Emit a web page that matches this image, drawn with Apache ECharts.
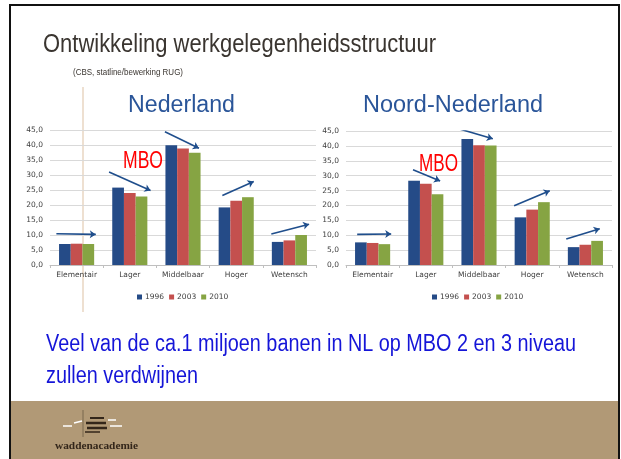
<!DOCTYPE html>
<html>
<head>
    <meta charset="utf-8">
    <title>Ontwikkeling werkgelegenheidsstructuur</title>
    <script src="https://cdn.jsdelivr.net/npm/echarts@6/dist/echarts.min.js"></script>
</head>
<body style="margin:0;padding:0;background:#fff;">
<div id="main" style="margin:0px;padding:0px;width:621px;height:459px;"></div>
<script type="text/javascript">
    // categorieen en jaren
    var categories = ['Elementair', 'Lager', 'Middelbaar', 'Hoger', 'Wetensch'];
    var years = ['1996', '2003', '2010'];
    var yTicks = [0, 45, 5];

    // Nederland (%)
    var nl1996 = [7.0, 25.8, 39.9, 19.2, 7.7];
    var nl2003 = [7.1, 24.0, 38.8, 21.4, 8.2];
    var nl2010 = [7.0, 22.8, 37.4, 22.6, 10.0];

    // Noord-Nederland (%)
    var nn1996 = [7.6, 28.3, 42.3, 16.0, 6.0];
    var nn2003 = [7.4, 27.3, 40.2, 18.6, 6.8];
    var nn2010 = [7.0, 23.8, 40.1, 21.1, 8.1];

    // pijlen (categorie-positie, waarde) -> (categorie-positie, waarde)
    var nlArrows = [
        [[-0.38, 10.4], [0.36, 10.2]],
        [[0.61, 31.0], [1.39, 24.8]],
        [[1.66, 44.4], [2.30, 38.9]],
        [[2.74, 23.2], [3.33, 27.8]],
        [[3.66, 10.3], [4.37, 13.6]]
    ];
    var nnArrows = [
        [[-0.29, 10.3], [0.35, 10.4]],
        [[0.76, 32.0], [1.27, 28.2]],
        [[1.61, 45.8], [2.26, 42.4]],
        [[2.66, 19.9], [3.33, 24.9]],
        [[3.64, 8.7], [4.27, 12.2]]
    ];

    var titleText = 'Ontwikkeling werkgelegenheidsstructuur';
    var subText = '(CBS, statline/bewerking RUG)';
    var bottomLines = ['Veel van de ca.1 miljoen banen in NL op MBO 2 en 3 niveau', 'zullen verdwijnen'];

    var colors = ['#254B87', '#C4504E', '#86A443'];
    var sans = "'Liberation Sans', Arial, sans-serif";
    var axisFont = "'DejaVu Sans', Verdana, sans-serif";

    // tekst smaller maken (geen Arial Narrow beschikbaar)
    var cv = document.createElement('canvas').getContext('2d');
    function fit(str, font, w) {
        cv.font = font;
        return w / cv.measureText(str).width;
    }
    function txt(str, x, y, size, color, w, opt) {
        var font = (opt && opt.bold ? 'bold ' : '') + size + 'px ' + ((opt && opt.family) || sans);
        var s = w ? fit(str, font, w) : 1;
        if (opt && opt.scale) s = opt.scale;
        return {
            type: 'text', x: x, y: y, scaleX: s, z: 10,
            style: {text: str, font: font, fill: color, verticalAlign: 'middle'}
        };
    }

    var myChart = echarts.init(document.getElementById('main'));

    function catAxis(g) {
        return {
            type: 'category', gridIndex: g, data: categories,
            axisLine: {lineStyle: {color: '#BFBFBF'}},
            axisTick: {show: true, length: 3, lineStyle: {color: '#BFBFBF'}},
            axisLabel: {color: '#404040', fontSize: 7.5, fontFamily: axisFont, margin: 6, interval: 0}
        };
    }
    function posAxis(g) {
        return {type: 'value', gridIndex: g, min: -0.5, max: 4.5, show: false};
    }
    function valAxis(g) {
        return {
            type: 'value', gridIndex: g, min: yTicks[0], max: yTicks[1], interval: yTicks[2],
            axisLine: {show: false}, axisTick: {show: false},
            splitLine: {lineStyle: {color: '#D9D9D9'}},
            axisLabel: {
                color: '#404040', fontSize: 7.5, fontFamily: axisFont, margin: 7,
                formatter: function (v) { return v.toFixed(1).replace('.', ','); }
            }
        };
    }
    function bar(name, data, g, c) {
        return {
            name: name, type: 'bar', xAxisIndex: g, yAxisIndex: g, data: data,
            itemStyle: {color: c}, barGap: '0%', barCategoryGap: '34%'
        };
    }
    function arrows(list, xi, yi) {
        return {
            type: 'lines', coordinateSystem: 'cartesian2d', xAxisIndex: xi, yAxisIndex: yi,
            symbol: ['none', 'arrow'], symbolSize: 6, silent: true,
            lineStyle: {color: '#1F4E8C', width: 1.6, opacity: 1},
            data: list.map(function (a) { return {coords: a}; })
        };
    }
    function legend(left) {
        return {
            data: years, left: left, top: 288, icon: 'rect', itemWidth: 5, itemHeight: 5, itemGap: 5,
            textStyle: {fontSize: 7.5, color: '#404040', fontFamily: axisFont, padding: [0, 0, 0, -2]}
        };
    }

    var bottomScale = fit(bottomLines[0], '23px ' + sans, 530);

    var option = {
        backgroundColor: '#ffffff',
        animation: false,
        graphic: [
            {type: 'rect', z: -10, shape: {x: 10, y: 5, width: 609, height: 460},
                style: {fill: '#ffffff', stroke: '#111111', lineWidth: 2}},
            {type: 'rect', z: -9, shape: {x: 11, y: 401, width: 607, height: 58},
                style: {fill: '#B19976'}},
            {type: 'line', z: -8, shape: {x1: 83, y1: 87, x2: 83, y2: 312},
                style: {stroke: '#E9D6C2', lineWidth: 1.5}},
            txt(titleText, 43, 45, 25, '#3A3530', 393),
            txt(subText, 73, 73, 8.5, '#3A3530', 110),
            txt('Nederland', 128, 106, 23, '#2A5599', 107),
            txt('Noord-Nederland', 363, 106, 23, '#2A5599', 180),
            txt('MBO', 123, 161, 24, '#FF0000', 40),
            txt('MBO', 419, 165, 23, '#FF0000', 39),
            txt(bottomLines[0], 46, 345, 23, '#1515D8', 0, {scale: bottomScale}),
            txt(bottomLines[1], 46, 377, 23, '#1515D8', 0, {scale: bottomScale}),
            txt('waddenacademie', 55, 446, 11, '#33261A', 83, {family: "'Liberation Serif', 'DejaVu Serif', serif", bold: true}),
            // logo streepjes
            {type: 'line', shape: {x1: 83, y1: 410, x2: 83, y2: 437}, style: {stroke: '#6b5a44', lineWidth: 0.8}},
            {type: 'line', shape: {x1: 90, y1: 418, x2: 104, y2: 418}, style: {stroke: '#33261A', lineWidth: 2}},
            {type: 'line', shape: {x1: 86, y1: 423, x2: 106, y2: 423}, style: {stroke: '#33261A', lineWidth: 2.5}},
            {type: 'line', shape: {x1: 87, y1: 428, x2: 107, y2: 428}, style: {stroke: '#33261A', lineWidth: 2.5}},
            {type: 'line', shape: {x1: 85, y1: 432, x2: 100, y2: 432}, style: {stroke: '#33261A', lineWidth: 1.5}},
            {type: 'line', shape: {x1: 63, y1: 426, x2: 72, y2: 426}, style: {stroke: '#ffffff', lineWidth: 1.5}},
            {type: 'line', shape: {x1: 74, y1: 423, x2: 82, y2: 421}, style: {stroke: '#ffffff', lineWidth: 1.5}},
            {type: 'line', shape: {x1: 108, y1: 420, x2: 116, y2: 420}, style: {stroke: '#ffffff', lineWidth: 1.5}},
            {type: 'line', shape: {x1: 110, y1: 426, x2: 122, y2: 426}, style: {stroke: '#ffffff', lineWidth: 1.5}}
        ],
        legend: [legend(132), legend(427)],
        grid: [
            {left: 50, right: 305, top: 130, bottom: 194},
            {left: 346, right: 9, top: 131, bottom: 194}
        ],
        xAxis: [catAxis(0), catAxis(1), posAxis(0), posAxis(1)],
        yAxis: [valAxis(0), valAxis(1)],
        series: [
            bar(years[0], nl1996, 0, colors[0]),
            bar(years[1], nl2003, 0, colors[1]),
            bar(years[2], nl2010, 0, colors[2]),
            bar(years[0], nn1996, 1, colors[0]),
            bar(years[1], nn2003, 1, colors[1]),
            bar(years[2], nn2010, 1, colors[2]),
            arrows(nlArrows, 2, 0),
            arrows(nnArrows, 3, 1)
        ]
    };

    myChart.setOption(option);
</script>
</body>
</html>
